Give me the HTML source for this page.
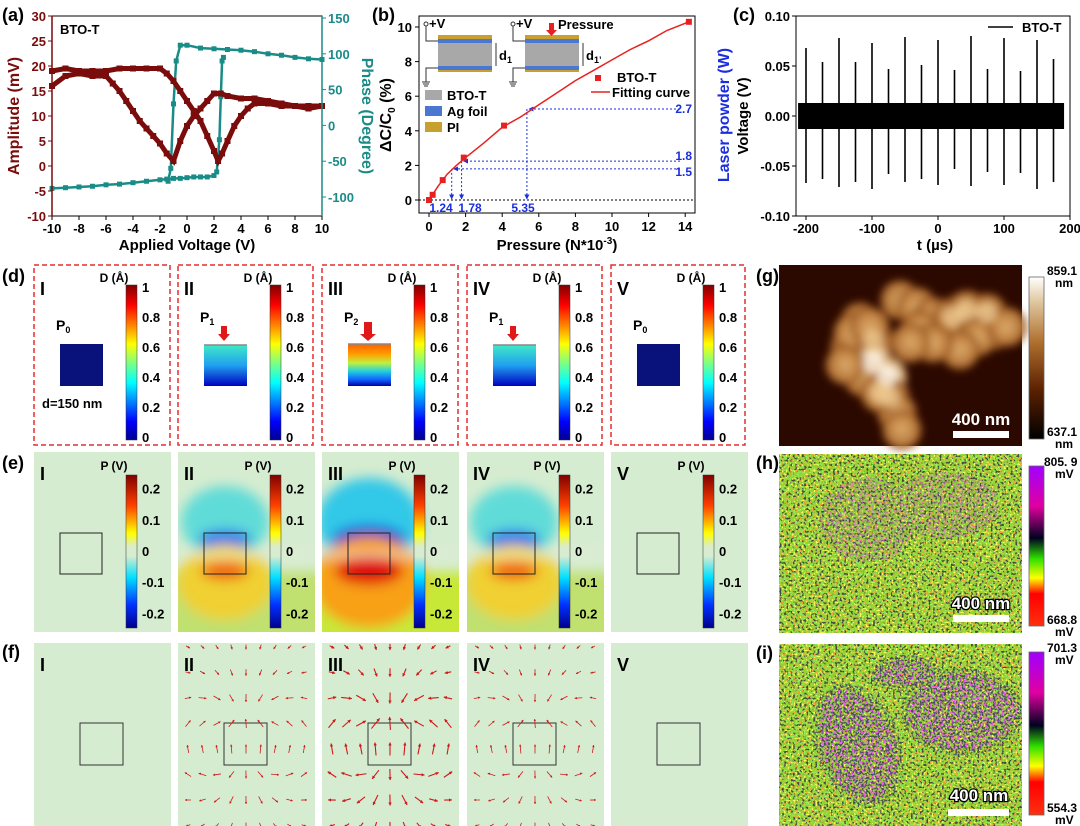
<!DOCTYPE html>
<html><head><meta charset="utf-8">
<style>
html,body{margin:0;padding:0;background:#fff;}
svg{display:block;font-family:"Liberation Sans",Arial,sans-serif;font-weight:bold;}
</style></head>
<body>
<svg id="fig" width="1080" height="826" viewBox="0 0 1080 826" xmlns="http://www.w3.org/2000/svg">
<defs>
<linearGradient id="jet" x1="0" y1="1" x2="0" y2="0">
<stop offset="0" stop-color="#00008f"/><stop offset="0.12" stop-color="#0000ff"/><stop offset="0.37" stop-color="#00ffff"/><stop offset="0.5" stop-color="#80ff80"/><stop offset="0.62" stop-color="#ffff00"/><stop offset="0.87" stop-color="#ff0000"/><stop offset="1" stop-color="#800000"/>
</linearGradient>
<linearGradient id="pjet" x1="0" y1="1" x2="0" y2="0">
<stop offset="0" stop-color="#00008b"/><stop offset="0.15" stop-color="#0030ff"/><stop offset="0.33" stop-color="#00e0ff"/><stop offset="0.47" stop-color="#d8ecd0"/><stop offset="0.53" stop-color="#d8ecd0"/><stop offset="0.62" stop-color="#ffff00"/><stop offset="0.8" stop-color="#ff4000"/><stop offset="1" stop-color="#800000"/>
</linearGradient>
<linearGradient id="sqII" x1="0" y1="0" x2="0" y2="1"><stop offset="0" stop-color="#40e8c8"/><stop offset="0.5" stop-color="#20a0f0"/><stop offset="1" stop-color="#0000c0"/></linearGradient>
<linearGradient id="sqIII" x1="0" y1="0" x2="0" y2="1"><stop offset="0" stop-color="#ff6000"/><stop offset="0.25" stop-color="#ffa000"/><stop offset="0.45" stop-color="#c0f040"/><stop offset="0.65" stop-color="#20d0e0"/><stop offset="0.85" stop-color="#1060ff"/><stop offset="1" stop-color="#0000a0"/></linearGradient>
<linearGradient id="afm" x1="0" y1="1" x2="0" y2="0"><stop offset="0" stop-color="#000"/><stop offset="0.3" stop-color="#5a2000"/><stop offset="0.6" stop-color="#b07030"/><stop offset="0.85" stop-color="#e0c8a0"/><stop offset="1" stop-color="#fff"/></linearGradient>
<linearGradient id="kpfm" x1="0" y1="1" x2="0" y2="0"><stop offset="0" stop-color="#ff3010"/><stop offset="0.2" stop-color="#ff0000"/><stop offset="0.3" stop-color="#ffff00"/><stop offset="0.42" stop-color="#30e000"/><stop offset="0.55" stop-color="#000020"/><stop offset="0.75" stop-color="#e000a0"/><stop offset="1" stop-color="#a000ff"/></linearGradient>
<radialGradient id="grainG"><stop offset="0" stop-color="#e0b070"/><stop offset="0.7" stop-color="#c08040"/><stop offset="1" stop-color="#8a4a18"/></radialGradient>
<radialGradient id="grainB"><stop offset="0" stop-color="#fff8ec"/><stop offset="0.6" stop-color="#f0d8b0"/><stop offset="1" stop-color="#c89050"/></radialGradient>
<filter id="blur6" x="-50%" y="-50%" width="200%" height="200%"><feGaussianBlur stdDeviation="6"/></filter>
<filter id="blur3" x="-50%" y="-50%" width="200%" height="200%"><feGaussianBlur stdDeviation="4"/></filter>
<filter id="spBlack" x="0" y="0" width="100%" height="100%"><feTurbulence type="fractalNoise" baseFrequency="0.45" numOctaves="1" seed="3"/><feColorMatrix type="matrix" values="0 0 0 0 0.05  0 0 0 0 0.07  0 0 0 0 0.05  9 0 0 0 -4.9"/></filter>
<filter id="spGreen" x="0" y="0" width="100%" height="100%"><feTurbulence type="fractalNoise" baseFrequency="0.5" numOctaves="1" seed="11"/><feColorMatrix type="matrix" values="0 0 0 0 0.25  0 0 0 0 0.85  0 0 0 0 0.1  9 0 0 0 -4.7"/></filter>
<filter id="spRed" x="0" y="0" width="100%" height="100%"><feTurbulence type="fractalNoise" baseFrequency="0.5" numOctaves="1" seed="21"/><feColorMatrix type="matrix" values="0 0 0 0 0.95  0 0 0 0 0.35  0 0 0 0 0.05  9 0 0 0 -5.5"/></filter>
<filter id="spYel" x="0" y="0" width="100%" height="100%"><feTurbulence type="fractalNoise" baseFrequency="0.5" numOctaves="1" seed="31"/><feColorMatrix type="matrix" values="0 0 0 0 0.95  0 0 0 0 0.95  0 0 0 0 0.1  9 0 0 0 -5.0"/></filter>
<filter id="spPur" x="0" y="0" width="100%" height="100%"><feTurbulence type="fractalNoise" baseFrequency="0.5" numOctaves="1" seed="41"/><feColorMatrix type="matrix" values="0 0 0 0 0.8  0 0 0 0 0.1  0 0 0 0 0.8  9 0 0 0 -4.9"/></filter>
<filter id="spBlk2" x="0" y="0" width="100%" height="100%"><feTurbulence type="fractalNoise" baseFrequency="0.5" numOctaves="1" seed="51"/><feColorMatrix type="matrix" values="0 0 0 0 0.05  0 0 0 0 0.05  0 0 0 0 0.15  9 0 0 0 -4.6"/></filter>
<clipPath id="clipH"><ellipse cx="868" cy="520" rx="48" ry="42"/><ellipse cx="945" cy="505" rx="55" ry="33"/></clipPath>
<clipPath id="clipI"><ellipse cx="858" cy="745" rx="36" ry="58" transform="rotate(-20 858 745)"/><ellipse cx="962" cy="712" rx="55" ry="38"/><ellipse cx="905" cy="673" rx="30" ry="13"/></clipPath>
<clipPath id="clipIwide"><ellipse cx="858" cy="745" rx="42" ry="64" transform="rotate(-20 858 745)"/><ellipse cx="962" cy="712" rx="61" ry="44"/><ellipse cx="905" cy="673" rx="35" ry="18"/></clipPath>
<marker id="arrB" viewBox="0 0 10 10" refX="9" refY="5" markerWidth="5" markerHeight="5" orient="auto"><path d="M0,0 L10,5 L0,10 z" fill="#1a2ee0"/></marker>
<marker id="arrR" viewBox="0 0 10 10" refX="9" refY="5" markerWidth="3" markerHeight="3" orient="auto"><path d="M0,0 L10,5 L0,10 z" fill="#d01818"/></marker>
</defs>

<text x="2" y="21" font-size="18">(a)</text>
<text x="372" y="21" font-size="18">(b)</text>
<text x="733" y="21" font-size="18">(c)</text>
<text x="2" y="282" font-size="18">(d)</text>
<text x="2" y="469" font-size="18">(e)</text>
<text x="2" y="658" font-size="18">(f)</text>
<text x="756" y="282" font-size="18">(g)</text>
<text x="756" y="469" font-size="18">(h)</text>
<text x="756" y="659" font-size="18">(i)</text>

<g id="chartA"></g>
<g id="chartB"></g>
<g id="chartC"></g>
<g id="rowD"></g>
<g id="rowE"></g>
<g id="rowF"></g>

<g>
<rect x="779" y="265" width="243" height="181" fill="#2c0900"/>
<g id="grains" filter="url(#blur3)"></g>
<rect x="953" y="431" width="56" height="7" fill="#fff"/>
<text x="981" y="425" font-size="17" fill="#fff" text-anchor="middle">400 nm</text>
</g>
<rect x="1029" y="277" width="15" height="162" fill="url(#afm)" stroke="#666" stroke-width="0.8"/>
<text x="1047" y="275" font-size="12">859.1</text>
<text x="1055" y="287" font-size="12">nm</text>
<text x="1047" y="436" font-size="12">637.1</text>
<text x="1055" y="448" font-size="12">nm</text>

<g>
<rect x="779" y="454" width="243" height="179" fill="#98d030"/>
<rect x="779" y="454" width="243" height="179" filter="url(#spGreen)"/>
<rect x="779" y="454" width="243" height="179" filter="url(#spYel)"/>
<rect x="779" y="454" width="243" height="179" filter="url(#spBlack)"/>
<rect x="779" y="454" width="243" height="179" filter="url(#spRed)"/>
<g clip-path="url(#clipH)"><rect x="779" y="454" width="243" height="179" filter="url(#spBlk2)" opacity="0.35"/><rect x="779" y="454" width="243" height="179" filter="url(#spPur)" opacity="0.5"/></g>
<rect x="953" y="615" width="56" height="7" fill="#fff"/>
<text x="981" y="609" font-size="17" fill="#fff" stroke="#000" stroke-width="2.5" paint-order="stroke" text-anchor="middle">400 nm</text>
</g>
<rect x="1029" y="466" width="15" height="160" fill="url(#kpfm)" stroke="#666" stroke-width="0.8"/>
<text x="1044" y="466" font-size="12">805. 9</text>
<text x="1055" y="478" font-size="12">mV</text>
<text x="1047" y="624" font-size="12">668.8</text>
<text x="1055" y="636" font-size="12">mV</text>

<g>
<rect x="779" y="644" width="243" height="182" fill="#98d030"/>
<rect x="779" y="644" width="243" height="182" filter="url(#spGreen)"/>
<rect x="779" y="644" width="243" height="182" filter="url(#spYel)"/>
<rect x="779" y="644" width="243" height="182" filter="url(#spBlack)"/>
<rect x="779" y="644" width="243" height="182" filter="url(#spRed)"/>
<g clip-path="url(#clipIwide)"><rect x="779" y="644" width="243" height="182" filter="url(#spBlk2)" opacity="0.7"/></g>
<g clip-path="url(#clipI)"><rect x="779" y="644" width="243" height="182" filter="url(#spPur)"/><rect x="779" y="644" width="243" height="182" filter="url(#spBlk2)" opacity="0.5"/></g>
<rect x="948" y="809" width="61" height="7" fill="#fff"/>
<text x="979" y="801" font-size="17" fill="#fff" stroke="#000" stroke-width="2.5" paint-order="stroke" text-anchor="middle">400 nm</text>
</g>
<rect x="1029" y="652" width="15" height="163" fill="url(#kpfm)" stroke="#666" stroke-width="0.8"/>
<text x="1047" y="652" font-size="12">701.3</text>
<text x="1055" y="664" font-size="12">mV</text>
<text x="1047" y="812" font-size="12">554.3</text>
<text x="1055" y="824" font-size="12">mV</text>
</svg>

<script>
// ---------- data (a) ----------
const ampFwdV = [-10,-9,-8,-7,-6,-5,-4,-3,-2,-1.5,-1,-0.5,0,0.5,1,1.5,2,2.3,2.6,3,3.5,4,4.5,5,6,7,8,9,10];
const ampFwd  = [19,19.5,19,19,19,19.5,19.5,19.5,19.5,18.5,17,15,13,11,9,6,3,1,2.5,5,8,10,11.5,12.5,12.5,12,12,12,12];
const ampBwdV = [10,9,8,7,6,5,4,3,2.5,2,1.5,1,0.5,0,-0.5,-1,-1.5,-2,-2.5,-3,-3.5,-4,-4.5,-5,-5.5,-6,-7,-8,-9,-10];
const ampBwd  = [12,11.5,12,12.5,13,13.5,13.5,14,14.5,14.5,13,11.5,10,8,5,1,2.5,4.5,6,7.5,9,11,13,15,16.5,18,18,18.5,18,16];
const phUpV = [-10,-9,-8,-7,-6,-5,-4,-3,-2,-1.5,-1,-0.5,0,0.5,1,1.5,2,2.2,2.4,2.5,2.6,2.7];
const phUp  = [-88,-87,-86,-85,-83,-82,-80,-78,-76,-75,-74,-74,-73,-72,-72,-72,-70,-65,-20,40,90,95];
const phDnV = [10,9,8,7,6,5,4,3,2,1,0,-0.5,-0.8,-1,-1.2,-1.4];
const phDn  = [92,93,95,98,100,103,105,106,107,108,112,112,90,30,-60,-78];
const aXTicks = [-10,-8,-6,-4,-2,0,2,4,6,8,10];
const aYTicks = [-10,-5,0,5,10,15,20,25,30];
const aY2Ticks = [-100,-50,0,50,100,150];
// ---------- data (b) ----------
const bP = [0,0.2,0.75,1.9,4.1,14.2];
const bC = [0,0.3,1.15,2.45,4.3,10.3];
const fitP = [0,0.25,0.5,1,1.5,2,3,4,5,6,7,8,9,10,11,12,13,14.2];
const fitC = [0,0.4,0.8,1.5,2.0,2.45,3.3,4.2,4.8,5.5,6.2,6.9,7.5,8.1,8.7,9.2,9.8,10.3];
const markP = [1.24,1.78,5.35];
const markC = [1.8,2.25,5.26];
const markPLabels = ["1.24","1.78","5.35"];
const markWLabels = ["1.5","1.8","2.7"];
const bXTicks = [0,2,4,6,8,10,12,14];
const bYTicks = [0,2,4,6,8,10];
// ---------- data (c) ----------
const spikeT = [-200,-175,-150,-125,-100,-75,-50,-25,0,25,50,75,100,125,150,175];
const spikePos = [0.068,0.054,0.078,0.054,0.073,0.047,0.079,0.051,0.076,0.046,0.080,0.047,0.078,0.045,0.076,0.057];
const spikeNeg = [-0.067,-0.063,-0.071,-0.066,-0.073,-0.058,-0.066,-0.063,-0.069,-0.053,-0.070,-0.056,-0.069,-0.057,-0.073,-0.066];
const noiseAmp = [0.013];
const cXTicks = [-200,-100,0,100,200];
const cYTicks = [-0.10,-0.05,0,0.05,0.10];

const NS = "http://www.w3.org/2000/svg";
function mk(parent, tag, attrs, name) {
  const el = document.createElementNS(NS, tag);
  for (const k in attrs) el.setAttribute(k, attrs[k]);
  
  
  parent.appendChild(el);
  return el;
}
function tx(parent, x, y, s, size, name, extra) {
  const el = mk(parent, 'text', Object.assign({x:x, y:y, 'font-size':size}, extra||{}), name);
  el.textContent = s;
  return el;
}
function pts(xs, ys, fx, fy){ return xs.map((v,i)=>fx(v).toFixed(1)+','+fy(ys[i]).toFixed(1)).join(' '); }

// ---------- chart (a) ----------
(function(){
  const g = document.getElementById('chartA');
  const x = v => 52 + (v+10)*13.5;
  const y = v => 216 - (v+10)*5;
  const y2 = v => 197 - (v+100)*0.716;
  const red = '#7a0c0c', teal = '#1a8c88';
  [[phUpV,phUp],[phDnV,phDn]].forEach((s,k)=>{
    mk(g,'polyline',{points:pts(s[0],s[1],x,y2),fill:'none',stroke:teal,'stroke-width':2.5},'phase-line-'+k);
    s[0].forEach((v,i)=>{ mk(g,'rect',{x:x(v)-2.5,y:y2(s[1][i])-2.5,width:5,height:5,fill:teal},'phase-point'); });
  });
  [[ampFwdV,ampFwd],[ampBwdV,ampBwd]].forEach((s,k)=>{
    mk(g,'polyline',{points:pts(s[0],s[1],x,y),fill:'none',stroke:red,'stroke-width':5},'amplitude-line-'+k);
    s[0].forEach((v,i)=>{ mk(g,'rect',{x:x(v)-3,y:y(s[1][i])-3,width:6,height:6,fill:red},'amplitude-point'); });
  });
  mk(g,'rect',{x:52,y:16,width:270,height:200,fill:'none',stroke:'#000','stroke-width':1},'plot-frame-a');
  mk(g,'line',{x1:52,y1:16,x2:52,y2:216,stroke:red,'stroke-width':1.5},'left-axis-a');
  mk(g,'line',{x1:322,y1:16,x2:322,y2:216,stroke:teal,'stroke-width':1.5},'right-axis-a');
  aXTicks.forEach(v=>{ mk(g,'line',{x1:x(v),y1:216,x2:x(v),y2:220,stroke:'#000'},'x-tick-a');
    tx(g,x(v),233,String(v),13,'x-tick-label-a',{'text-anchor':'middle'}); });
  aYTicks.forEach(v=>{ mk(g,'line',{x1:48,y1:y(v),x2:52,y2:y(v),stroke:red},'y-tick-a');
    tx(g,46,y(v)+5,String(v),13,'y-tick-label-a',{'text-anchor':'end',fill:red}); });
  aY2Ticks.forEach(v=>{ mk(g,'line',{x1:322,y1:y2(v),x2:326,y2:y2(v),stroke:teal},'y2-tick-a');
    tx(g,328,y2(v)+5,String(v),13,'y2-tick-label-a',{fill:teal}); });
  tx(g,187,250,'Applied Voltage (V)',15,'x-axis-title-a',{'text-anchor':'middle'});
  tx(g,0,0,'Amplitude (mV)',16,'y-axis-title-a',{'text-anchor':'middle',fill:red,transform:'translate(19,116) rotate(-90)'});
  tx(g,0,0,'Phase (Degree)',16,'y2-axis-title-a',{'text-anchor':'middle',fill:teal,transform:'translate(362,116) rotate(90)'});
  tx(g,60,34,'BTO-T',13,'sample-label-a');
})();

// ---------- chart (b) ----------
(function(){
  const g = document.getElementById('chartB');
  const x = v => 429 + v*18.3;
  const y = v => 200 - v*17.3;
  const blue = '#1a2ee0';
  const labX = [441,470,523];
  mk(g,'line',{x1:419,y1:y(0),x2:695,y2:y(0),stroke:'#000','stroke-dasharray':'2,2'},'zero-line-b');
  markP.forEach((p,i)=>{
    mk(g,'line',{x1:680,y1:y(markC[i]),x2:x(p)+2,y2:y(markC[i]),stroke:blue,'stroke-dasharray':'2,2','marker-end':'url(#arrB)'},'laser-guide-h');
    mk(g,'line',{x1:x(p),y1:y(markC[i]),x2:x(p),y2:y(0)-1,stroke:blue,'stroke-dasharray':'2,2','marker-end':'url(#arrB)'},'laser-guide-v');
    tx(g,labX[i],212,markPLabels[i],12,'pressure-mark-label',{'text-anchor':'middle',fill:blue});
    tx(g,692,y(markC[i])+ (i===0?7:(i===1?-1:4)),markWLabels[i],12,'laser-mark-label',{'text-anchor':'end',fill:blue});
  });
  mk(g,'polyline',{points:pts(fitP,fitC,x,y),fill:'none',stroke:'#e82020','stroke-width':1.5},'fitting-curve');
  bP.forEach((p,i)=>{ mk(g,'rect',{x:x(p)-3,y:y(bC[i])-3,width:6,height:6,fill:'#e82020'},'bto-t-point'); });
  mk(g,'rect',{x:419,y:16,width:276,height:197,fill:'none',stroke:'#000'},'plot-frame-b');
  bXTicks.forEach(v=>{ mk(g,'line',{x1:x(v),y1:213,x2:x(v),y2:217,stroke:'#000'},'x-tick-b');
    tx(g,x(v),231,String(v),13,'x-tick-label-b',{'text-anchor':'middle'}); });
  bYTicks.forEach(v=>{ mk(g,'line',{x1:415,y1:y(v),x2:419,y2:y(v),stroke:'#000'},'y-tick-b');
    tx(g,412,y(v)+5,String(v),13,'y-tick-label-b',{'text-anchor':'end'}); });
  const xt = tx(g,557,250,'Pressure (N*10',15,'x-axis-title-b',{'text-anchor':'middle'});
  const sup = document.createElementNS(NS,'tspan'); sup.setAttribute('dy','-6'); sup.setAttribute('font-size','10'); sup.textContent='-3'; xt.appendChild(sup);
  const sup2 = document.createElementNS(NS,'tspan'); sup2.setAttribute('dy','6'); sup2.textContent=')'; xt.appendChild(sup2);
  const yt = tx(g,0,0,'ΔC/C',16,'y-axis-title-b',{'text-anchor':'middle',transform:'translate(391,115) rotate(-90)'});
  const sb = document.createElementNS(NS,'tspan'); sb.setAttribute('dy','4'); sb.setAttribute('font-size','10'); sb.textContent='0'; yt.appendChild(sb);
  const sb2 = document.createElementNS(NS,'tspan'); sb2.setAttribute('dy','-4'); sb2.textContent=' (%)'; yt.appendChild(sb2);
  tx(g,0,0,'Laser powder (W)',16,'y2-axis-title-b',{'text-anchor':'middle',fill:blue,transform:'translate(729,115) rotate(-90)'});
  [[438,"'"],[525,"\u2019"]].forEach((d,k)=>{
    const x0=d[0];
    mk(g,'rect',{x:x0,y:35,width:54,height:37,fill:'#c8a030'},'pi-layer');
    mk(g,'rect',{x:x0,y:39,width:54,height:4,fill:'#4a78d0'},'ag-layer-top');
    mk(g,'rect',{x:x0,y:43,width:54,height:23,fill:'#a8a8a8'},'bto-layer');
    mk(g,'rect',{x:x0,y:66,width:54,height:4,fill:'#4a78d0'},'ag-layer-bottom');
    mk(g,'polyline',{points:`${x0},41 ${x0-12},41 ${x0-12},25`,fill:'none',stroke:'#333'},'wire-top');
    mk(g,'circle',{cx:x0-12,cy:24,r:2,fill:'#fff',stroke:'#333'},'terminal');
    tx(g,x0-9,28,'+V',13,'voltage-label');
    mk(g,'polyline',{points:`${x0},68 ${x0-12},68 ${x0-12},82`,fill:'none',stroke:'#333'},'wire-bottom');
    mk(g,'path',{d:`M${x0-16},82 h8 M${x0-15},84 h6 M${x0-14},86 h4`,stroke:'#333',fill:'none'},'ground-symbol');
    mk(g,'line',{x1:x0+58,y1:43,x2:x0+58,y2:66,stroke:'#333'},'thickness-arrow');
    const dl = tx(g,x0+61,60,'d',13,'thickness-label');
    const s1 = document.createElementNS(NS,'tspan'); s1.setAttribute('font-size','9'); s1.setAttribute('dy','3'); s1.textContent = k===0?'1':'1\u2019'; dl.appendChild(s1);
  });
  mk(g,'path',{d:'M549,23 h5 v7 h3 l-5.5,6 l-5.5,-6 h3 z',fill:'#e82020'},'pressure-arrow');
  tx(g,558,29,'Pressure',13,'pressure-label');
  [['#a8a8a8','BTO-T',96],['#4a78d0','Ag foil',112],['#c8a030','PI',128]].forEach(l=>{
    mk(g,'rect',{x:425,y:l[2]-6,width:17,height:10,fill:l[0]},'legend-swatch-b');
    tx(g,447,l[2]+4,l[1],13,'legend-label-b');
  });
  mk(g,'rect',{x:595,y:75,width:6,height:6,fill:'#e82020'},'legend-marker-bto');
  tx(g,617,82,'BTO-T',13,'legend-label-bto');
  mk(g,'line',{x1:591,y1:92,x2:610,y2:92,stroke:'#e82020','stroke-width':1.5},'legend-line-fit');
  tx(g,612,97,'Fitting curve',13,'legend-label-fit');
})();

// ---------- chart (c) ----------
(function(){
  const g = document.getElementById('chartC');
  const x = t => 938 + t*0.66;
  const y = v => 116 - v*1000;
  mk(g,'rect',{x:x(-212),y:y(noiseAmp[0]),width:x(191)-x(-212),height:y(-noiseAmp[0])-y(noiseAmp[0]),fill:'#000'},'noise-band');
  spikeT.forEach((t,i)=>{ mk(g,'line',{x1:x(t),y1:y(spikePos[i]),x2:x(t),y2:y(spikeNeg[i]),stroke:'#000','stroke-width':1.6},'voltage-spike'); });
  mk(g,'rect',{x:796,y:16,width:274,height:200,fill:'none',stroke:'#000'},'plot-frame-c');
  cXTicks.forEach(v=>{ mk(g,'line',{x1:x(v),y1:216,x2:x(v),y2:220,stroke:'#000'},'x-tick-c');
    tx(g,x(v),233,String(v),13,'x-tick-label-c',{'text-anchor':'middle'}); });
  cYTicks.forEach(v=>{ mk(g,'line',{x1:792,y1:y(v),x2:796,y2:y(v),stroke:'#000'},'y-tick-c');
    tx(g,790,y(v)+5,v.toFixed(2),13,'y-tick-label-c',{'text-anchor':'end'}); });
  tx(g,935,250,'t (µs)',15,'x-axis-title-c',{'text-anchor':'middle'});
  tx(g,0,0,'Voltage (V)',15,'y-axis-title-c',{'text-anchor':'middle',transform:'translate(748,116) rotate(-90)'});
  mk(g,'line',{x1:988,y1:27,x2:1013,y2:27,stroke:'#000','stroke-width':1.5},'legend-line-c');
  tx(g,1022,32,'BTO-T',13,'legend-label-c');
})();

// ---------- rows d/e/f ----------
const subX = [34,178,322,467,611];
const subW = [136,135,136,135,134];
const numerals = ['I','II','III','IV','V'];
const pressLabel = ['P0','P1','P2','P1','P0'];
const strength = [0,1,2,1,0];
(function(){
  const gd = document.getElementById('rowD'), ge = document.getElementById('rowE'), gf = document.getElementById('rowF');
  subX.forEach((x0,k)=>{
    mk(gd,'rect',{x:x0,y:265,width:subW[k],height:180,fill:'none',stroke:'#e03030','stroke-width':1.5,'stroke-dasharray':'5,3'},'dashed-box-d');
    tx(gd,x0+6,295,numerals[k],18,'numeral-d');
    mk(gd,'rect',{x:x0+92,y:285,width:11,height:155,fill:'url(#jet)',stroke:'#333','stroke-width':0.5},'colorbar-d');
    tx(gd,x0+80,282,'D (Å)',12,'colorbar-title-d',{'text-anchor':'middle'});
    [0,0.2,0.4,0.6,0.8,1].forEach(v=>{ tx(gd,x0+108,437-v*150+5,String(v),13,'colorbar-tick-d'); });
    const sq = strength[k];
    const top = sq===0?344:(sq===1?345:344);
    mk(gd,'rect',{x:x0+26,y:top,width:43,height:386-top,fill:sq===0?'#08127a':(sq===1?'url(#sqII)':'url(#sqIII)')},'sample-square-d');
    if(sq>0) mk(gd,'line',{x1:x0+26,y1:top,x2:x0+69,y2:top,stroke:'#888','stroke-width':1.5},'compressed-top');
    const pl = tx(gd,x0+22,sq===0?330:322,'P',14,'pressure-state-label');
    const ps = document.createElementNS(NS,'tspan'); ps.setAttribute('font-size','9'); ps.setAttribute('dy','3'); ps.textContent=pressLabel[k].slice(1); pl.appendChild(ps);
    if(sq>0){ const w = sq===2?4:3; const h = sq===2?18:14;
      mk(gd,'path',{d:`M${x0+46-w},${340-h} h${2*w} v${h-6} h${w} l-${2*w},7 l-${2*w},-7 h${w} z`,fill:'#e01818'},'pressure-arrow-d'); }
    if(k===0) tx(gd,x0+8,408,'d=150 nm',13,'thickness-label-d');
    // e
    const ey=452, eh=180;
    const clipId='ce'+k;
    const cp = mk(ge,'clipPath',{id:clipId},'clip-e'); mk(cp,'rect',{x:x0,y:ey,width:137,height:eh},'clip-rect');
    mk(ge,'rect',{x:x0,y:ey,width:137,height:eh,fill:'#d6ecd0'},'potential-bg');
    if(sq>0){
      const gg = mk(ge,'g',{'clip-path':`url(#${clipId})`},'potential-map');
      const inner = mk(gg,'g',{filter:'url(#blur6)'},'potential-blur');
      mk(inner,'rect',{x:x0-10,y:ey+120,width:160,height:80,fill:sq===2?'#c8e838':'#c0e070'},'lower-field');
      mk(inner,'ellipse',{cx:x0+47,cy:ey+70,rx:sq===2?52:44,ry:sq===2?44:36,fill:sq===2?'#30c8e8':'#60dcd8'},'negative-lobe');
      mk(inner,'ellipse',{cx:x0+47,cy:ey+88,rx:sq===2?36:26,ry:sq===2?14:10,fill:sq===2?'#0010d0':'#1870f0'},'negative-core');
      mk(inner,'ellipse',{cx:x0+47,cy:ey+130,rx:sq===2?56:48,ry:sq===2?46:38,fill:sq===2?'#f8a018':'#f0d030'},'positive-lobe');
      mk(inner,'ellipse',{cx:x0+47,cy:ey+119,rx:sq===2?34:24,ry:sq===2?14:9,fill:sq===2?'#e00808':'#f06010'},'positive-core');
      mk(inner,'rect',{x:x0,y:ey+101,width:137,height:3,fill:'#e8f0e0'},'zero-band');
    }
    mk(ge,'rect',{x:x0+26,y:533,width:42,height:41,fill:'none',stroke:'#222','stroke-width':1},'sample-outline-e');
    tx(ge,x0+6,480,numerals[k],18,'numeral-e');
    mk(ge,'rect',{x:x0+92,y:475,width:11,height:153,fill:'url(#pjet)',stroke:'#333','stroke-width':0.5},'colorbar-e');
    tx(ge,x0+80,470,'P (V)',12,'colorbar-title-e',{'text-anchor':'middle'});
    [-0.2,-0.1,0,0.1,0.2].forEach(v=>{ tx(ge,x0+108,551-v*312+5,String(v),13,'colorbar-tick-e'); });
    // f
    const fy=643, fh=183;
    mk(gf,'rect',{x:x0,y:fy,width:137,height:fh,fill:'#d6ecd0'},'field-bg');
    tx(gf,x0+6,671,numerals[k],18,'numeral-f');
    const sqx=x0+46, sqy=723, s=43;
    mk(gf,'rect',{x:sqx,y:sqy,width:s,height:42,fill:'none',stroke:'#333','stroke-width':1},'sample-outline-f');
    if(sq>0){
      const cx=sqx+s/2, qTop=sqy, qBot=sqy+42;
      for(let r=0;r<8;r++){ for(let c=0;c<9;c++){
        const px=x0+10+c*14.5, py=fy+4+r*25.5;
        let ex=0, ey2=0;
        for(let t=-2;t<=2;t++){
          const sx=cx+t*10;
          let dx=px-sx, dy=py-qBot, d2=dx*dx+dy*dy+30; ex+=dx/d2; ey2+=dy/d2;
          dx=px-sx; dy=py-qTop; d2=dx*dx+dy*dy+30; ex-=dx/d2; ey2-=dy/d2;
        }
        const m=Math.hypot(ex,ey2)||1;
        const inside = px>sqx && px<sqx+s && py>sqy && py<sqy+42;
        let L = Math.min(sq===2?11:8, 3+ m*90*(sq===2?1.6:1));
        if(inside) L = sq===2?13:9;
        const ux=ex/m, uy=ey2/m;
        mk(gf,'line',{x1:px-ux*L/2,y1:py-uy*L/2,x2:px+ux*L/2,y2:py+uy*L/2,stroke:'#d01818','stroke-width':sq===2?1.1:0.8,'marker-end':'url(#arrR)'},'field-arrow');
      }}
    }
  });
})();

// ---------- AFM grains (g) ----------
const grainX = [860,850,873,873,887,863,890,897,880,853,870,900,917,933,920,947,953,967,987,993,977,960,933,910,1007,845,902];
const grainY = [322,347,340,363,377,377,397,413,393,333,327,300,307,317,330,337,317,310,313,330,337,350,343,343,327,365,430];
const grainBright = [0,0,1,2,2,0,1,0,1,0,0,0,0,0,0,0,1,1,1,0,0,0,0,0,0,0,0];
(function(){
  const g = document.getElementById('grains');
  grainX.forEach((x,i)=>{
    mk(g,'circle',{cx:x,cy:grainY[i],r:20,fill:grainBright[i]===2?'url(#grainB)':'url(#grainG)',opacity:0.95},'afm-grain');
  });
  grainX.forEach((x,i)=>{ if(grainBright[i]>0) mk(g,'circle',{cx:x,cy:grainY[i],r:10,fill:grainBright[i]===2?'#fff6e8':'#ecc890',opacity:0.8},'afm-grain-highlight'); });
})();
</script>
</body></html>
